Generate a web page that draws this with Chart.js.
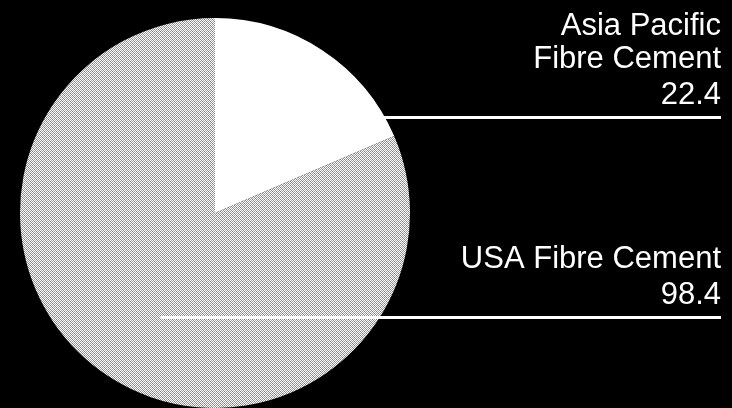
<!DOCTYPE html>
<html>
<head>
<meta charset="utf-8">
<script src="https://cdn.jsdelivr.net/npm/chart.js@4"></script>
<style>
  html, body { margin: 0; padding: 0; background: #000; }
  #wrap { width: 732px; height: 408px; }
</style>
</head>
<body>
<div id="wrap"><canvas id="myChart"></canvas></div>
<script>
const segments = ['Asia Pacific Fibre Cement', 'USA Fibre Cement'];
const labelLines = [['Asia Pacific', 'Fibre Cement'], ['USA Fibre Cement']];
const values = [22.4, 98.4];
const valueText = ['22.4', '98.4'];

// halftone-ish grey fill for the big slice
function greyPattern() {
  const tile = document.createElement('canvas');
  tile.width = 4;
  tile.height = 4;
  const t = tile.getContext('2d');
  const px = [
    '#ffffff', '#8c8c8c', '#ffffff', '#a8a8a8',
    '#9a9a9a', '#ffffff', '#7c7c7c', '#ffffff',
    '#ffffff', '#a8a8a8', '#ffffff', '#8c8c8c',
    '#7c7c7c', '#ffffff', '#9a9a9a', '#ffffff'
  ];
  for (let i = 0; i < 16; i++) {
    t.fillStyle = px[i];
    t.fillRect(i % 4, Math.floor(i / 4), 1, 1);
  }
  return t.createPattern(tile, 'repeat');
}

// leader lines + right aligned labels
const sideLabels = {
  id: 'sideLabels',
  afterDatasetsDraw(chart) {
    const ctx = chart.ctx;
    const arc = chart.getDatasetMeta(0).data[0];
    const cx = arc.x, cy = arc.y, r = arc.outerRadius;
    const right = 721;
    const lineY = [cy - r * 0.49, cy + r * 0.535];
    const startX = [cx + Math.sqrt(r * r - (r * 0.49) * (r * 0.49)) - 1, cx - r * 0.28];

    ctx.save();
    ctx.strokeStyle = '#ffffff';
    ctx.lineWidth = 3;
    ctx.fillStyle = '#ffffff';
    ctx.font = '31px "Liberation Sans", Arial, sans-serif';
    ctx.textAlign = 'right';
    ctx.textBaseline = 'alphabetic';
    for (let i = 0; i < segments.length; i++) {
      const y = Math.round(lineY[i]) + 0.5;
      ctx.beginPath();
      ctx.moveTo(startX[i], y);
      ctx.lineTo(right, y);
      ctx.stroke();

      const valBase = y - 14;
      ctx.fillText(valueText[i], right, valBase);
      const names = labelLines[i];
      let base = valBase - 36;
      for (let j = names.length - 1; j >= 0; j--) {
        ctx.fillText(names[j], right, base);
        base -= 33;
      }
    }
    ctx.restore();
  }
};

new Chart(document.getElementById('myChart'), {
  type: 'pie',
  data: {
    labels: segments,
    datasets: [{
      data: values,
      backgroundColor: ['#ffffff', greyPattern()],
      borderWidth: 0
    }]
  },
  options: {
    responsive: true,
    maintainAspectRatio: false,
    animation: false,
    layout: { padding: { left: 20, right: 322, top: 18, bottom: 0 } },
    plugins: {
      legend: { display: false },
      tooltip: { enabled: false }
    }
  },
  plugins: [sideLabels]
});
</script>
</body>
</html>
